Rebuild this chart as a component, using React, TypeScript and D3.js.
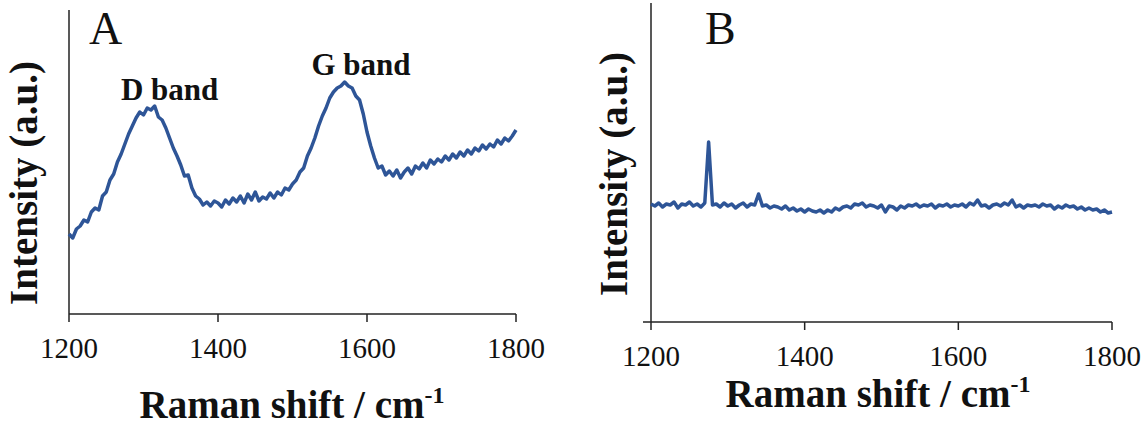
import React, { useEffect, useRef } from "react";
import * as d3 from "d3";

// Raman shift (cm-1), 5 cm-1 steps from 1200 to 1800
const shifts: number[] = d3.range(1200, 1801, 5);

// Panel A: carbon sample with D and G bands (a.u.)
const intensityA: number[] = [
  80, 76, 85, 88, 94, 92, 102, 106, 104, 118, 122, 134, 140, 152, 160, 170, 180, 188, 196, 202,
  199, 206, 204, 208, 197, 194, 186, 176, 166, 158, 149, 138, 139, 126, 118, 115, 109, 112, 108, 113,
  111, 107, 114, 110, 116, 112, 118, 111, 120, 114, 122, 113, 117, 115, 121, 116, 122, 119, 126, 124,
  130, 134, 142, 146, 158, 166, 176, 188, 198, 206, 216, 222, 226, 228, 232, 228, 226, 218, 214, 200,
  182, 168, 156, 146, 148, 139, 143, 138, 144, 136, 142, 146, 140, 148, 145, 151, 146, 154, 150, 155,
  152, 158, 154, 160, 156, 162, 158, 164, 160, 166, 163, 169, 165, 170, 167, 174, 170, 176, 173, 178,
  184,
];

// Panel B: flat background with a single narrow spike (a.u.)
const intensityB: number[] = [
  118, 116, 119, 115, 118, 117, 120, 114, 118, 117, 120, 116, 118, 115, 119, 180, 117, 118, 115, 119,
  116, 118, 114, 117, 119, 115, 118, 117, 128, 116, 117, 114, 116, 115, 113, 116, 112, 114, 111, 113,
  110, 113, 111, 110, 112, 109, 112, 110, 114, 112, 115, 116, 114, 118, 117, 119, 115, 117, 116, 114,
  117, 110, 116, 115, 112, 116, 114, 117, 116, 118, 115, 117, 116, 118, 114, 117, 116, 118, 115, 117,
  116, 118, 115, 119, 117, 122, 116, 117, 114, 117, 118, 116, 119, 117, 122, 115, 117, 114, 117, 116,
  117, 115, 118, 116, 117, 113, 116, 114, 117, 115, 116, 113, 115, 112, 114, 112, 113, 110, 112, 109,
  110,
];

const xTicks: number[] = [1200, 1400, 1600, 1800];

const lineColor = "#2E5597";
const serif = '"Liberation Serif", Tinos, "Times New Roman", "DejaVu Serif", serif';

type Panel = {
  letter: string;
  values: number[];
  left: number;
  right: number;
  top: number;
  bottom: number;
  yMax: number;
  axisStart: number;
  yLabelX: number;
  yLabelY: number;
  xLabelX: number;
  xLabelY: number;
  letterX: number;
};

const panels: Panel[] = [
  {
    letter: "A",
    values: intensityA,
    left: 69,
    right: 516,
    top: 10,
    bottom: 314,
    yMax: 304,
    axisStart: 69,
    yLabelX: 37,
    yLabelY: 183,
    xLabelX: 292,
    xLabelY: 418,
    letterX: 89,
  },
  {
    letter: "B",
    values: intensityB,
    left: 651,
    right: 1112,
    top: 3,
    bottom: 322,
    yMax: 319,
    axisStart: 643,
    yLabelX: 627,
    yLabelY: 174,
    xLabelX: 878,
    xLabelY: 407,
    letterX: 705,
  },
];

const App = () => {
  const node = useRef<SVGSVGElement>(null);

  useEffect(() => {
    const svg = d3.select(node.current);
    svg.selectAll("*").remove();

    panels.forEach((p) => {
      const x = d3.scaleLinear().domain([1200, 1800]).range([p.left, p.right]);
      const y = d3.scaleLinear().domain([0, p.yMax]).range([p.bottom, p.top]);
      const g = svg.append("g");

      // y axis line (no ticks)
      g.append("line")
        .attr("x1", p.left)
        .attr("x2", p.left)
        .attr("y1", p.top)
        .attr("y2", p.bottom)
        .attr("stroke", "#222")
        .attr("stroke-width", 1.5);

      // x axis
      g.append("line")
        .attr("x1", p.axisStart)
        .attr("x2", p.right)
        .attr("y1", p.bottom)
        .attr("y2", p.bottom)
        .attr("stroke", "#222")
        .attr("stroke-width", 1.5);

      g.selectAll("line.tick")
        .data(xTicks)
        .enter()
        .append("line")
        .attr("class", "tick")
        .attr("x1", (d) => x(d))
        .attr("x2", (d) => x(d))
        .attr("y1", p.bottom)
        .attr("y2", p.bottom + 8)
        .attr("stroke", "#222")
        .attr("stroke-width", 1.5);

      g.selectAll("text.tick")
        .data(xTicks)
        .enter()
        .append("text")
        .attr("class", "tick")
        .attr("x", (d) => x(d))
        .attr("y", p.bottom + 44)
        .attr("text-anchor", "middle")
        .style("font-family", serif)
        .style("font-size", "29px")
        .attr("fill", "#111")
        .text((d) => d);

      // spectrum
      const pts: [number, number][] = shifts.map((s, i) => [s, p.values[i]]);
      g.append("path")
        .datum(pts)
        .attr("fill", "none")
        .attr("stroke", lineColor)
        .attr("stroke-width", 3.5)
        .attr("stroke-linejoin", "round")
        .attr(
          "d",
          d3
            .line<[number, number]>()
            .x((d) => x(d[0]))
            .y((d) => y(d[1]))
        );

      // axis titles
      const xt = g
        .append("text")
        .attr("x", p.xLabelX)
        .attr("y", p.xLabelY)
        .attr("text-anchor", "middle")
        .style("font-family", serif)
        .style("font-weight", "bold")
        .style("font-size", "39px")
        .attr("fill", "#111");
      xt.append("tspan").text("Raman shift / cm");
      xt.append("tspan").style("font-size", "24px").attr("dy", -15).text("-1");

      g.append("text")
        .attr("transform", `translate(${p.yLabelX},${p.yLabelY}) rotate(-90)`)
        .attr("text-anchor", "middle")
        .style("font-family", serif)
        .style("font-weight", "bold")
        .style("font-size", "39px")
        .attr("fill", "#111")
        .text("Intensity (a.u.)");

      g.append("text")
        .attr("x", p.letterX)
        .attr("y", 44)
        .style("font-family", serif)
        .style("font-size", "46px")
        .attr("fill", "#111")
        .text(p.letter);
    });

    // band labels for panel A
    const xA = d3.scaleLinear().domain([1200, 1800]).range([panels[0].left, panels[0].right]);
    [
      { label: "D band", shift: 1335, y: 100 },
      { label: "G band", shift: 1592, y: 75 },
    ].forEach((b) => {
      svg
        .append("text")
        .attr("x", xA(b.shift))
        .attr("y", b.y)
        .attr("text-anchor", "middle")
        .style("font-family", serif)
        .style("font-weight", "bold")
        .style("font-size", "31px")
        .attr("fill", "#111")
        .text(b.label);
    });
  }, []);

  return (
    <svg
      ref={node}
      width={1146}
      height={425}
      style={{ position: "absolute", left: 0, top: 0, background: "#fff" }}
    ></svg>
  );
};

export default App;
